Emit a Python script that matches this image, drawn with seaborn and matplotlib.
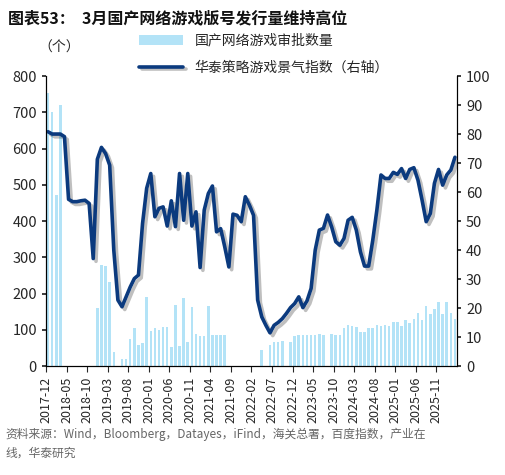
import matplotlib
matplotlib.use("Agg")
import matplotlib.pyplot as plt
import matplotlib.patheffects as pe
import seaborn as sns
import pandas as pd
import numpy as np

sns.set_theme(style="white")
plt.rcParams['font.family'] = ['Noto Sans CJK SC', 'DejaVu Sans']

months = pd.period_range("2017-12", "2026-03", freq="M").strftime("%Y-%m").tolist()

approvals = [753, 700, 472, 720] + [0]*8 + \
    [161, 278, 276, 233, 39, 0, 20, 20, 74, 104, 58, 64, 190, 96, 104, 100, 109, 109, 53, 168,
     56, 188, 66, 163, 89, 84, 84, 166, 85, 85, 85, 86] + [0]*8 + \
    [44, 0, 58, 66, 67, 69, 0, 67, 83, 85, 85, 85, 85, 85, 88, 87, 0, 88, 85, 85,
     104, 113, 111, 108, 95, 95, 104, 104, 115, 110, 113, 112, 121, 121, 110, 127, 119, 130,
     146, 127, 166, 143, 158, 177, 143, 176, 146, 130]

index = [80.8, 80.0, 80.0, 80.0, 79.1, 57.5, 56.7, 56.7, 57.0, 57.2, 56.1, 37.1, 71.3, 75.4,
         73.3, 69.3, 40.0, 22.8, 20.5, 23.9, 27.3, 30.2, 31.4, 49.2, 61.3, 66.4, 51.5, 54.4,
         54.9, 48.3, 57.0, 48.1, 66.4, 50.3, 66.4, 48.3, 53.2, 34.0, 53.8, 59.5, 62.1, 46.3,
         47.4, 41.1, 34.2, 52.4, 52.0, 49.8, 58.4, 55.5, 52.0, 22.8,
         17.0, 14.1, 11.5, 14.1, 15.1, 16.4, 18.2, 20.2, 21.6, 23.9, 20.2, 22.5, 26.8, 40.0,
         46.9, 47.5, 52.1, 48.0, 42.9, 41.7, 44.0, 50.3, 51.3, 46.9, 39.4, 34.5, 34.5, 43.4,
         53.8, 65.9, 64.7, 64.7, 66.8, 66.1, 68.1, 64.7, 67.8, 68.4, 64.1, 57.2, 49.8, 52.6,
         63.0, 67.8, 62.4, 65.9, 67.6, 72.0]

df = pd.DataFrame({"month": months, "approvals": approvals, "index": index})
df["pos"] = np.arange(len(df))

fig = plt.figure(figsize=(5.05, 4.75), dpi=100)
ax = fig.add_axes([0.091, 0.229, 0.814, 0.611])
sns.barplot(data=df, x="pos", y="approvals", color="#b3e3f7", width=0.62, ax=ax,
            saturation=1, label="国产网络游戏审批数量", legend=False, linewidth=0)
for p in ax.patches:
    p.set_antialiased(False)
ax.set_ylim(0, 800)
ax.set_yticks(range(0, 801, 100))
ax.set_xlim(-0.5, len(df) - 0.5)
tick_pos = np.arange(0, len(df), 5)
ax.set_xticks(tick_pos - 0.5)
ax.set_xticklabels([months[i] for i in tick_pos], rotation=90, fontsize=9)
ax.tick_params(axis="x", length=4, direction="out", bottom=True, width=0.8)
ax.tick_params(axis="y", labelsize=10.5, length=3, left=True)
ax.set_xlabel("")
ax.set_ylabel("")

ax2 = ax.twinx()
sns.lineplot(data=df, x="pos", y="index", color="#0b3a7e", linewidth=2.6, ax=ax2,
             label="华泰策略游戏景气指数（右轴）", legend=False,
             path_effects=[pe.SimpleLineShadow(offset=(2, -2), alpha=0.25, shadow_color="black"),
                           pe.Normal()])
ax2.set_ylim(0, 100)
ax2.set_yticks(range(0, 101, 10))
ax2.tick_params(axis="y", labelsize=10.5, length=3, right=True)
ax2.set_ylabel("")
ax2.set_xlim(-0.5, len(df) - 0.5)

for a in (ax, ax2):
    a.spines["top"].set_visible(False)
    for s in ("left", "right", "bottom"):
        a.spines[s].set_color("black")
        a.spines[s].set_linewidth(0.8)

h1, l1 = ax.get_legend_handles_labels()
h2, l2 = ax2.get_legend_handles_labels()
fig.legend(h1 + h2, l1 + l2, loc="upper left", bbox_to_anchor=(0.25, 0.955), frameon=False,
           fontsize=10, handlelength=3.2, labelspacing=0.9)

fig.text(0.015, 0.978, "图表53：  3月国产网络游戏版号发行量维持高位", fontsize=11.5,
         fontweight="bold", va="top", color="#111111")
fig.text(0.075, 0.915, "（个）", fontsize=10, va="top")
fig.text(0.01, 0.10, "资料来源：Wind，Bloomberg，Datayes，iFind，海关总署，百度指数，产业在\n线，华泰研究",
         fontsize=8.5, va="top", color="#666666", linespacing=1.6)

fig.savefig("out.png", dpi=100)
